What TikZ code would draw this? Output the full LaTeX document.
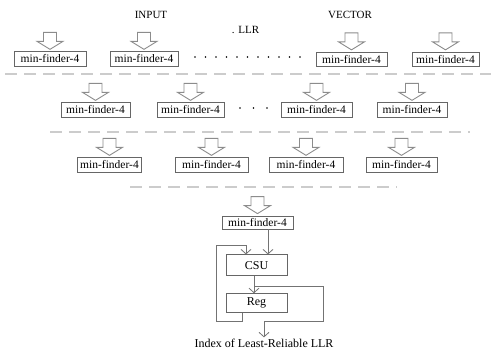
\documentclass[tikz,border=0pt]{standalone}
\usepackage{fontspec}
\setmainfont{Liberation Serif}
\usetikzlibrary{positioning,calc,arrows.meta}

\tikzset{
  mf/.style={draw=gray!80!black, line width=0.8pt, minimum width=70pt, minimum height=14.5pt, inner sep=0pt, font=\fontsize{11.5}{13}\selectfont},
  fatarr/.style={draw=gray!90, line width=0.9pt, fill=white},
  sep/.style={gray!40, line width=1.3pt, dash pattern=on 12pt off 7pt},
  link/.style={gray!90!black, line width=0.8pt, -{Straight Barb[length=4.5pt,width=10pt]}},
  unit/.style={draw=gray!80!black, line width=0.8pt, minimum width=61pt, inner sep=0pt, font=\fontsize{12}{14}\selectfont},
  lbl/.style={font=\fontsize{11}{13}\selectfont, inner sep=0pt}
}
% hollow arrow pointing into the top of a box
\newcommand{\fatin}[1]{\draw[fatarr] ($(#1.north)+(0,-2)$) -- ++(-13,-8) -- ++(6.5,0) -- ++(0,-9) -- ++(13,0) -- ++(0,9) -- ++(6.5,0) -- cycle;}

\begin{document}
\begin{tikzpicture}[x=1pt, y=-1pt]
    \useasboundingbox (0,0) rectangle (491,349);

    % input labels
    \node [lbl] (inp) at (151,15) {INPUT};
    \node [lbl] (llr) at (245.5,30) {. LLR};
    \node [lbl] (vec) at (350,15) {VECTOR};

    % first stage
    \node [mf, minimum width=72pt] (s1a) at (50,59) {min-finder-4};
    \node [mf, minimum width=68pt] (s1b) at (144,59) {min-finder-4};
    \node [mf, minimum width=71pt] (s1c) at (351.5,59.5) {min-finder-4};
    \node [mf, minimum width=67pt] (s1d) at (445.5,59.5) {min-finder-4};
    \foreach \i in {0,...,10}
        \fill (195+10.5*\i,57) circle (0.9);

    \draw [sep] (5,74) -- (491,74);

    % second stage
    \node [mf, minimum width=69pt] (s2a) at (95.5,110) {min-finder-4};
    \node [mf, minimum width=67pt] (s2b) at (190.5,110) {min-finder-4};
    \node [mf, minimum width=71pt] (s2c) at (316.5,110) {min-finder-4};
    \node [mf, minimum width=70pt] (s2d) at (412,110) {min-finder-4};
    \foreach \i in {0,1,2}
        \fill (240+13.5*\i,108) circle (0.9);

    \draw [sep] (50,132) -- (470,132);

    % third stage
    \node [mf, minimum width=64pt] (s3a) at (109.5,165) {min-finder-4};
    \node [mf, minimum width=73pt] (s3b) at (211.5,165) {min-finder-4};
    \node [mf, minimum width=74pt] (s3c) at (306,165) {min-finder-4};
    \node [mf, minimum width=71pt] (s3d) at (401.5,165) {min-finder-4};

    \draw [sep] (130,187) -- (397,187);

    % last stage
    \node [mf, minimum width=71pt, minimum height=13pt] (s4) at (257.5,222.5) {min-finder-4};
    \node [unit, minimum height=21pt, below=25pt of s4, xshift=-1pt] (csu) {CSU};
    \node [unit, minimum height=19pt, below=17pt of csu] (reg) {Reg};
    \node [font=\fontsize{12}{14}\selectfont, inner sep=1.5pt, anchor=base] (idx) at (264,347.5) {Index of Least-Reliable LLR};

    \foreach \n in {s1a,s1b,s1c,s1d,s2a,s2b,s2c,s2d,s3a,s3b,s3c,s3d,s4}
        {\fatin{\n}}

    \draw [link] ([xshift=11.5pt]csu.north |- s4.south) -- ([xshift=11.5pt]csu.north);
    \draw [link] ([xshift=-2.5pt]csu.south) -- ([xshift=-2.5pt]reg.north);
    \coordinate (br) at ($([xshift=-2.5pt]csu.south)!0.6!([xshift=-2.5pt]reg.north)$);
    \draw [link] (br) -- ++(69,0) -- ++(0,35) -| (idx.north);
    \draw [link] ([xshift=-14.5pt]reg.south) -- ++(0,8) -- ++(-26,0) -- ++(0,-76) -| ([xshift=-10.5pt]csu.north);

\end{tikzpicture}
\end{document}
